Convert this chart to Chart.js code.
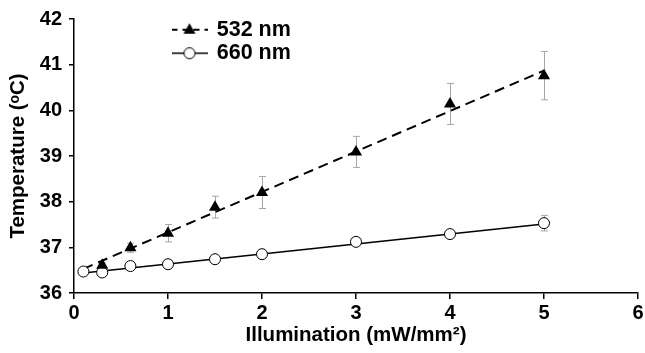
<!DOCTYPE html>
<html>
<head>
<meta charset="utf-8">
<script src="https://cdn.jsdelivr.net/npm/chart.js@4.4.1/dist/chart.umd.min.js"></script>
<style>
  html, body { margin: 0; padding: 0; background: #fff; }
  #wrap { width: 645px; height: 353px; }
</style>
</head>
<body>
<div id="wrap"><canvas id="c" width="645" height="353"></canvas></div>
<script>
// ---- data ----
const seriesNames = ['532 nm', '660 nm'];
const xs532   = [0.3, 0.6, 1, 1.5, 2, 3, 4, 5];
const temp532 = [36.61, 36.99, 37.31, 37.88, 38.20, 39.09, 40.14, 40.76];
const err532  = [0.05, 0.10, 0.19, 0.24, 0.35, 0.34, 0.45, 0.53];
const xs660   = [0.1, 0.3, 0.6, 1, 1.5, 2, 3, 4, 5];
const temp660 = [36.47, 36.45, 36.59, 36.63, 36.74, 36.85, 37.12, 37.29, 37.53];
const err660  = [0.03, 0.03, 0.03, 0.03, 0.03, 0.03, 0.04, 0.04, 0.17];
const fitX    = [0.1, 5];
const fit532  = [36.53, 40.87];
const fit660  = [36.44, 37.51];
const xTickValues = [0, 1, 2, 3, 4, 5, 6];
const yTickValues = [36, 37, 38, 39, 40, 41, 42];
const xTitle = 'Illumination (mW/mm\u00B2)';
const yTitle = 'Temperature (\u1D52C)';

const FONT = "'Liberation Sans', Arial, 'DejaVu Sans', sans-serif";
const pts = (xs, ys) => xs.map((x, i) => ({ x: x, y: ys[i] }));

// legend sample symbols (line + marker)
function legendSymbol(kind) {
  const c = document.createElement('canvas');
  c.width = 36; c.height = 16;
  const g = c.getContext('2d');
  g.strokeStyle = '#000';
  if (kind === 'tri') {
    g.lineWidth = 2; g.setLineDash([6, 5]);
    g.beginPath(); g.moveTo(0, 8); g.lineTo(36, 8); g.stroke();
    g.setLineDash([]);
    g.fillStyle = '#000';
    g.beginPath(); g.moveTo(18, 1.5); g.lineTo(24, 12); g.lineTo(12, 12); g.closePath(); g.fill();
  } else {
    g.lineWidth = 1.5;
    g.beginPath(); g.moveTo(0, 8); g.lineTo(36, 8); g.stroke();
    g.fillStyle = '#fff'; g.lineWidth = 1;
    g.beginPath(); g.arc(18, 8, 5.5, 0, Math.PI * 2); g.fill(); g.stroke();
  }
  return c;
}
const symbols = [legendSymbol('tri'), legendSymbol('circ')];

const errorBars = {
  id: 'errorBars',
  beforeDatasetsDraw(chart) {
    const { ctx, scales: { x, y } } = chart;
    ctx.save();
    ctx.strokeStyle = '#a6a6a6';
    ctx.lineWidth = 1;
    [[xs532, temp532, err532], [xs660, temp660, err660]].forEach(([xs, ys, es]) => {
      xs.forEach((xv, i) => {
        const px = Math.round(x.getPixelForValue(xv)) + 0.5;
        const t = y.getPixelForValue(ys[i] + es[i]);
        const b = y.getPixelForValue(ys[i] - es[i]);
        ctx.beginPath();
        ctx.moveTo(px, t); ctx.lineTo(px, b);
        ctx.moveTo(px - 3.5, t); ctx.lineTo(px + 3.5, t);
        ctx.moveTo(px - 3.5, b); ctx.lineTo(px + 3.5, b);
        ctx.stroke();
      });
    });
    ctx.restore();
  }
};

const legendPlace = {
  id: 'legendPlace',
  afterLayout(chart) {
    const lg = chart.legend;
    if (!lg) return;
    const w = lg.right - lg.left, h = lg.bottom - lg.top;
    lg.left = 171; lg.top = 17;
    lg.right = lg.left + w; lg.bottom = lg.top + h;
  }
};

new Chart(document.getElementById('c'), {
  type: 'scatter',
  data: {
    datasets: [
      {
        label: seriesNames[0], data: pts(xs532, temp532), showLine: false,
        pointStyle: 'triangle', pointRadius: 7, pointBackgroundColor: '#000',
        pointBorderColor: '#000', pointBorderWidth: 0
      },
      {
        label: seriesNames[1], data: pts(xs660, temp660), showLine: false,
        pointStyle: 'circle', pointRadius: 5.5, pointBackgroundColor: '#fff',
        pointBorderColor: '#000', pointBorderWidth: 1
      },
      {
        label: 'fit532', data: pts(fitX, fit532), showLine: true, pointRadius: 0,
        borderColor: '#000', borderWidth: 2, borderDash: [10, 6]
      },
      {
        label: 'fit660', data: pts(fitX, fit660), showLine: true, pointRadius: 0,
        borderColor: '#000', borderWidth: 1.5
      }
    ]
  },
  options: {
    responsive: false,
    animation: false,
    devicePixelRatio: 1,
    layout: { padding: { top: 19, right: 4.5, left: 0, bottom: 0 } },
    plugins: {
      tooltip: { enabled: false },
      legend: {
        position: 'chartArea',
        align: 'start',
        labels: {
          usePointStyle: true,
          pointStyleWidth: 33,
          padding: 2,
          color: '#000',
          font: { family: FONT, size: 21.5, weight: 'bold', lineHeight: 1.2 },
          generateLabels: (chart) => seriesNames.map((n, i) => ({
            text: n, datasetIndex: i, pointStyle: symbols[i],
            fillStyle: '#000', strokeStyle: '#000', lineWidth: 0, hidden: false, fontColor: '#000'
          }))
        }
      }
    },
    scales: {
      x: {
        type: 'linear', min: 0, max: 6,
        afterBuildTicks: (s) => { s.ticks = xTickValues.map(v => ({ value: v })); },
        afterFit: (s) => { s.height = 60; s.paddingLeft = 0; s.paddingRight = 0; },
        border: { display: true, color: '#000', width: 1.5 },
        grid: { display: true, drawOnChartArea: false, drawTicks: true, tickLength: 6, color: '#000', lineWidth: 1.5 },
        ticks: { color: '#000', padding: 2, maxRotation: 0, font: { family: FONT, size: 20, weight: 'bold' } },
        title: {
          display: true, text: xTitle, color: '#000',
          font: { family: FONT, size: 20.5, weight: 'bold', lineHeight: 1.2 },
          padding: { top: 0, bottom: 5 }
        }
      },
      y: {
        type: 'linear', min: 36, max: 42,
        afterBuildTicks: (s) => { s.ticks = yTickValues.map(v => ({ value: v })); },
        afterFit: (s) => { s.width = 74; s.paddingTop = 0; s.paddingBottom = 0; },
        border: { display: true, color: '#000', width: 1.5 },
        grid: { display: true, drawOnChartArea: false, drawTicks: true, tickLength: 5, color: '#000', lineWidth: 1.5 },
        ticks: { color: '#000', padding: 7, font: { family: FONT, size: 20, weight: 'bold' } },
        title: {
          display: true, text: yTitle, color: '#000',
          font: { family: FONT, size: 20.5, weight: 'bold', lineHeight: 1.2 },
          padding: { top: 6, bottom: 0 }
        }
      }
    }
  },
  plugins: [errorBars, legendPlace]
});
</script>
</body>
</html>
